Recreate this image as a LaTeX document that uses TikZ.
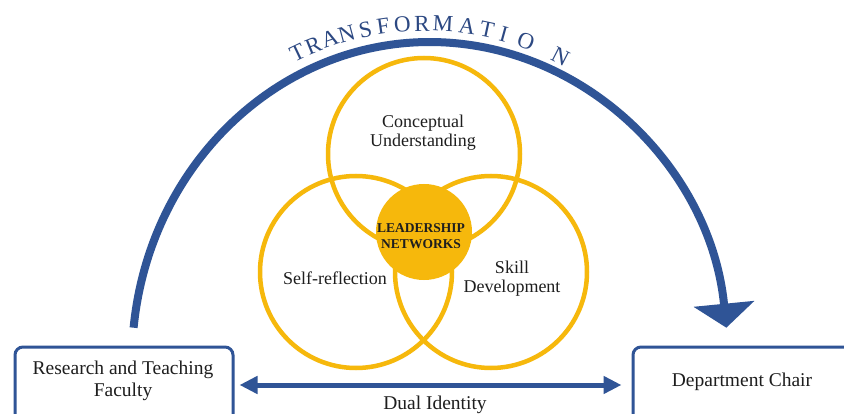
\documentclass[tikz,border=0pt]{standalone}
\usepackage{fontspec}
\setmainfont{Liberation Serif}
\usetikzlibrary{arrows.meta}
\definecolor{tblue}{RGB}{47,84,150}
\definecolor{tdark}{RGB}{44,72,130}
\definecolor{tyellow}{RGB}{246,184,12}
\definecolor{ttext}{RGB}{30,30,30}
\begin{document}
\begin{tikzpicture}[x=1pt,y=1pt,
  ring/.style={circle, draw=tyellow, line width=4.5pt, minimum size=192pt, inner sep=0pt},
  core/.style={circle, fill=tyellow, minimum size=96pt, inner sep=0pt},
  lbl/.style={text=ttext, font=\fontsize{18}{19}\selectfont, align=center, inner sep=0pt},
  boxlbl/.style={text=ttext, font=\fontsize{19.5}{22}\selectfont, align=center, inner sep=0pt},
  corelbl/.style={text=ttext, font=\bfseries\fontsize{13.5}{16.5}\selectfont, align=center, inner sep=0pt},
  rolebox/.style={draw=tblue, line width=3pt, rounded corners=8pt, inner sep=0pt},
  tletter/.style={text=tdark, font=\fontsize{23}{24}\selectfont, inner sep=0pt, anchor=base},
  bigarrow/.style={draw=tblue, line width=8pt, -{Triangle[width=60pt,length=24pt]}},
  dualarrow/.style={draw=tblue, line width=5pt, {Triangle[width=17pt,length=18pt]}-{Triangle[width=17pt,length=18pt]}, shorten <=5pt, shorten >=10pt}
]
\useasboundingbox (0,0) rectangle (844,413);
\clip (0,0) rectangle (844,413);
\fill[white] (0,0) rectangle (844,413);

% Venn circles
\node[ring] (ctop) at (424,259) {};
\node[ring] (cleft) at (356,141) {};
\node[ring] (cright) at (491,141) {};
\node[core] (core) at (424,181) {};

\node[lbl] (tconc) at (423,280) {Conceptual\\Understanding};
\node[lbl] (tself) at (335,135) {Self-reflection};
\node[lbl] (tskill) at (512,134) {Skill\\Development};
\node[corelbl] (tcore) at (421,177) {LEADERSHIP\\NETWORKS};

% role boxes
\node[rolebox, minimum width=218pt, minimum height=76pt] (lbox) at (124,28) {};
\node[rolebox, minimum width=222pt, minimum height=76pt] (rbox) at (744,28) {};
\node[boxlbl] (ltext) at (123,32) {Research and Teaching\\Faculty};
\node[boxlbl] (rtext) at (742,31) {Department Chair};

\draw[dualarrow] (lbox) -- (rbox);
\node[boxlbl] (dual) at (435,8) {Dual Identity};

% transformation arc
\coordinate (arcstart) at (133.6,85.3);
\draw[bigarrow] (arcstart) arc[start angle=174, end angle=6, x radius=298, y radius=319];

\coordinate (tc) at (425,93);
\foreach \l/\a [count=\i] in {T/115.5,R/112.1,A/108.7,N/105.3,S/101.6,F/98.1,O/94.4,R/90.6,M/86.5,A/81.8,T/77.9,I/74.6,O/70.1,N/62.8}{
  \node[tletter, rotate=\a-90] (tl\i) at ([shift={(\a:289)}]tc) {\l};
}
\end{tikzpicture}
\end{document}
